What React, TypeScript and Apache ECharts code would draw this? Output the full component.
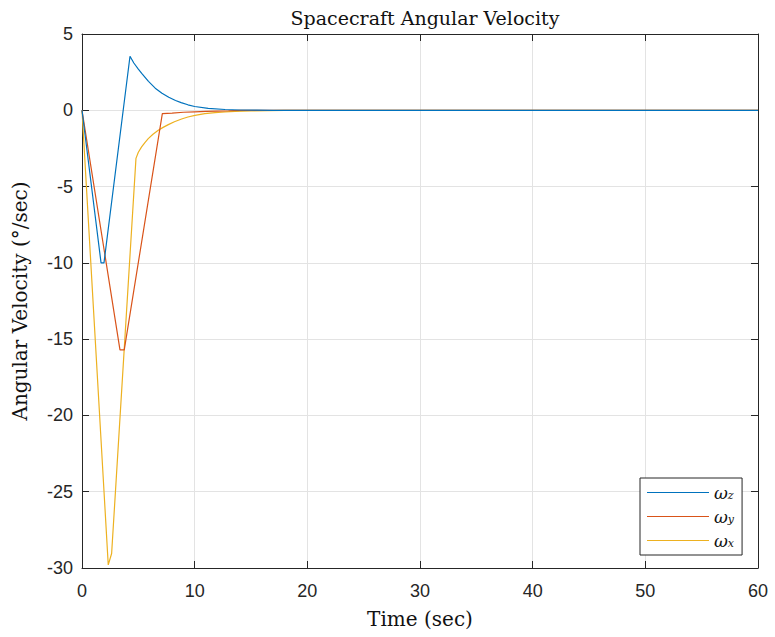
import React, { useEffect, useRef } from "react";
import * as echarts from "echarts";

// ---- data ----
const zTime = [0, 1.69, 1.95, 4.26, 4.6, 5.0, 5.3, 5.9, 6.5, 7.1, 7.7, 8.3, 8.8, 9.4, 10.0, 11.2, 12.7, 14.0, 15.5, 17, 60];
const zValues = [0, -10, -10, 3.54, 3.1, 2.7, 2.42, 1.9, 1.45, 1.12, 0.86, 0.64, 0.5, 0.36, 0.25, 0.12, 0.05, 0.02, 0.01, 0, 0];

const yTime = [0, 3.37, 3.75, 7.13, 8.0, 9.0, 10.0, 11.0, 12.0, 13.0, 14.0, 60];
const yValues = [0, -15.7, -15.7, -0.22, -0.18, -0.13, -0.1, -0.07, -0.05, -0.03, 0, 0];

const xTime = [0, 2.33, 2.63, 4.79, 5.0, 5.29, 5.6, 5.88, 6.3, 6.77, 7.2, 7.66, 8.2, 8.84, 9.4, 10.03, 10.9, 11.8, 12.7, 13.6, 15.0, 16.5, 18.0, 60];
const xValues = [0, -29.8, -29.05, -3.15, -2.75, -2.4, -2.1, -1.86, -1.57, -1.31, -1.12, -0.94, -0.75, -0.57, -0.44, -0.33, -0.22, -0.15, -0.1, -0.07, -0.04, -0.02, 0, 0];

const seriesNames = ["ω_z", "ω_y", "ω_x"];
const seriesColors = ["#0072BD", "#D95319", "#EDB120"];

const xTicks = { min: 0, max: 60, interval: 10 };
const yTicks = { min: -30, max: 5, interval: 5 };

const titleText = "Spacecraft Angular Velocity";
const xLabel = "Time (sec)";
const yLabel = "Angular Velocity (°/sec)";

const AXIS = "#262626";
const GRID = "#e3e3e3";
const SANS = "Liberation Sans, Arial, Helvetica, sans-serif";
const SERIF = "DejaVu Serif, Liberation Serif, serif";

export default function App() {
  const ref = useRef<HTMLDivElement>(null);
  useEffect(() => {
    if (!ref.current) return;
    const chart = echarts.init(ref.current, null, { renderer: "svg" });
    const pairs = (t: number[], v: number[]) => t.map((x, i) => [x, v[i]]);
    const datasets = [pairs(zTime, zValues), pairs(yTime, yValues), pairs(xTime, xValues)];

    const tickCommon = { show: true, inside: true, length: 7, lineStyle: { color: AXIS, width: 1 } };
    const lineCommon = { show: true, onZero: false, lineStyle: { color: AXIS, width: 1 } };

    chart.setOption({
      animation: false,
      backgroundColor: "#ffffff",
      title: {
        text: titleText,
        left: 420,
        textAlign: "center",
        top: 3,
        textStyle: { fontFamily: SERIF, fontSize: 19, fontWeight: "normal", color: "#111" },
      },
      grid: { left: 82, right: 17, top: 34, bottom: 69, containLabel: false },
      legend: {
        orient: "vertical",
        left: 640,
        top: 478,
        padding: [6, 8, 6, 7],
        itemWidth: 62,
        itemHeight: 1.2,
        itemGap: 7,
        icon: "rect",
        borderColor: AXIS,
        borderWidth: 1,
        backgroundColor: "#fff",
        data: seriesNames,
        formatter: (name: string) => {
          const [a, b] = name.split("_");
          return `{w|${a}}{s|${b}}`;
        },
        textStyle: {
          rich: {
            w: { fontFamily: SERIF, fontStyle: "italic", fontSize: 17, color: "#111", lineHeight: 16 },
            s: { fontFamily: SERIF, fontStyle: "italic", fontSize: 11, color: "#111", lineHeight: 4, verticalAlign: "bottom" },
          },
        },
      },
      xAxis: [
        {
          type: "value",
          position: "bottom",
          min: xTicks.min,
          max: xTicks.max,
          interval: xTicks.interval,
          axisLine: lineCommon,
          axisTick: tickCommon,
          axisLabel: { color: AXIS, fontFamily: SANS, fontSize: 18, margin: 14 },
          splitLine: { show: true, lineStyle: { color: GRID, width: 1 } },
          name: xLabel,
          nameLocation: "middle",
          nameGap: 41,
          nameTextStyle: { fontFamily: SERIF, fontSize: 20, color: "#111" },
        },
        {
          type: "value",
          position: "top",
          min: xTicks.min,
          max: xTicks.max,
          interval: xTicks.interval,
          axisLine: lineCommon,
          axisTick: tickCommon,
          axisLabel: { show: false },
          splitLine: { show: false },
        },
      ],
      yAxis: [
        {
          type: "value",
          position: "left",
          min: yTicks.min,
          max: yTicks.max,
          interval: yTicks.interval,
          axisLine: lineCommon,
          axisTick: tickCommon,
          axisLabel: { color: AXIS, fontFamily: SANS, fontSize: 18, margin: 9 },
          splitLine: { show: true, lineStyle: { color: GRID, width: 1 } },
          name: yLabel,
          nameLocation: "middle",
          nameRotate: 90,
          nameGap: 52,
          nameTextStyle: { fontFamily: SERIF, fontSize: 20, color: "#111" },
        },
        {
          type: "value",
          position: "right",
          min: yTicks.min,
          max: yTicks.max,
          interval: yTicks.interval,
          axisLine: lineCommon,
          axisTick: tickCommon,
          axisLabel: { show: false },
          splitLine: { show: false },
        },
      ],
      series: seriesNames.map((name, i) => ({
        name,
        type: "line",
        xAxisIndex: 0,
        yAxisIndex: 0,
        data: datasets[i],
        showSymbol: false,
        symbol: "none",
        smooth: false,
        lineStyle: { color: seriesColors[i], width: 1.2 },
        itemStyle: { color: seriesColors[i] },
        z: 3 - i,
      })),
    });
    return () => chart.dispose();
  }, []);
  return (
    <div
      ref={ref}
      style={{ position: "fixed", left: 0, top: 0, width: 775, height: 637, background: "#fff" }}
    />
  );
}
